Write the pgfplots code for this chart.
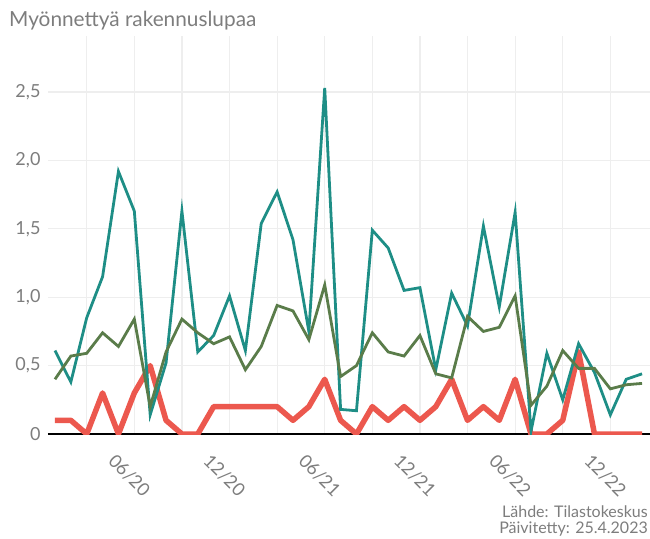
\documentclass[border=0pt]{standalone}
\usepackage{fontspec}
\setmainfont{Lato}
\usepackage{pgfplots}
\usepackage{pgfplotstable}
\pgfplotsset{compat=1.18}
\definecolor{teal1}{RGB}{30,142,134}
\definecolor{olive1}{RGB}{90,124,74}
\definecolor{red1}{RGB}{236,88,78}
\definecolor{txtgray}{RGB}{125,125,125}
\definecolor{gridgray}{RGB}{238,238,238}
\pgfplotstableread{
i teal green red
0 0.61 0.40 0.1
1 0.38 0.57 0.1
2 0.85 0.59 0
3 1.15 0.74 0.3
4 1.92 0.64 0
5 1.63 0.84 0.3
6 0.14 0.20 0.5
7 0.52 0.60 0.1
8 1.63 0.84 0
9 0.60 0.74 0
10 0.72 0.66 0.2
11 1.01 0.71 0.2
12 0.61 0.47 0.2
13 1.54 0.64 0.2
14 1.77 0.94 0.2
15 1.42 0.90 0.1
16 0.75 0.69 0.2
17 2.53 1.09 0.4
18 0.18 0.42 0.1
19 0.17 0.50 0
20 1.49 0.74 0.2
21 1.36 0.60 0.1
22 1.05 0.57 0.2
23 1.07 0.72 0.1
24 0.47 0.44 0.2
25 1.03 0.41 0.4
26 0.79 0.86 0.1
27 1.52 0.75 0.2
28 0.93 0.78 0.1
29 1.62 1.01 0.4
30 0.02 0.21 0
31 0.59 0.35 0
32 0.25 0.61 0.1
33 0.66 0.48 0.6
34 0.45 0.48 0
35 0.14 0.33 0
36 0.40 0.36 0
37 0.44 0.37 0
}\datatable
\begin{document}
\begin{tikzpicture}
\path[use as bounding box] (-48pt,-104pt) rectangle (602pt,434pt);
\begin{axis}[
  at={(0pt,0pt)}, anchor=south west,
  scale only axis, width=602pt, height=398pt,
  xmin=-0.44, xmax=37.5, ymin=0, ymax=2.91,
  axis x line*=bottom, axis y line*=left,
  x axis line style={black, line width=1.2pt, -},
  y axis line style={draw=none},
  major tick length=0pt, minor tick length=0pt,
  xtick={5,11,17,23,29,35},
  xticklabels={06/20,12/20,06/21,12/21,06/22,12/22},
  minor xtick={2,8,14,20,26,32},
  ytick={0,0.5,1,1.5,2,2.5},
  yticklabels={0,{0,5},{1,0},{1,5},{2,0},{2,5}},
  xmajorgrids, xminorgrids, ymajorgrids,
  grid style={gridgray, line width=1.2pt},
  minor grid style={gridgray, line width=1.2pt},
  tick label style={font=\fontsize{18}{20}\selectfont, text=txtgray},
  xticklabel style={xshift=-5pt, yshift=-41.5pt, rotate=-45, anchor=center},
  yticklabel style={anchor=east, xshift=-4pt},
]
\addplot[red1, line width=5.5pt, line join=round, no markers] table[x=i, y=red] {\datatable};
\addplot[teal1, line width=2.8pt, no markers] table[x=i, y=teal] {\datatable};
\addplot[olive1, line width=2.8pt, no markers] table[x=i, y=green] {\datatable};
\end{axis}
\node[anchor=base west, text=txtgray, font=\fontsize{20.8}{24}\selectfont, inner sep=0pt] at (-39pt,407pt) {Myönnettyä rakennuslupaa};
\node[anchor=base east, text=txtgray, font=\fontsize{16}{18}\selectfont, inner sep=0pt] at (600pt,-83pt) {Lähde: Tilastokeskus};
\node[anchor=base east, text=txtgray, font=\fontsize{16}{18}\selectfont, inner sep=0pt] at (600pt,-99pt) {Päivitetty: 25.4.2023};
\end{tikzpicture}
\end{document}
